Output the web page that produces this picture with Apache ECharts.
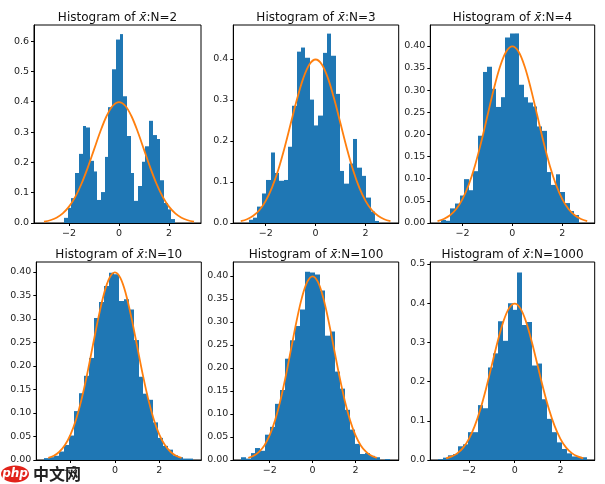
<!DOCTYPE html>
<html><head><meta charset="utf-8">
<style>html,body{margin:0;padding:0;background:#fff}#c{width:605px;height:484px}</style>
<script src="https://cdn.jsdelivr.net/npm/echarts@6/dist/echarts.min.js"></script>
</head><body><div id="c"></div>
<script>
const panelNames = ['2','3','4','10','100','1000'];
const heightsN2 = [.017,.05,.082,.165,.228,.32,.315,.205,.17,.076,.102,.218,.382,.507,.605,.623,.418,.287,.165,.073,.122,.202,.253,.337,.29,.277,.141,.066,.045,.013];
const heightsN3 = [.008,.013,.04,.072,.105,.172,.122,.103,.105,.186,.286,.418,.428,.403,.301,.238,.262,.415,.462,.408,.315,.127,.096,.145,.205,.135,.115,.062,.028,.005];
const heightsN4 = [.007,.005,.033,.044,.062,.099,.074,.117,.197,.341,.353,.303,.262,.284,.419,.428,.428,.312,.284,.272,.263,.218,.208,.115,.086,.11,.07,.045,.027,.018];
const heightsN10 = [.004,.006,.009,.018,.032,.052,.104,.142,.179,.217,.302,.336,.37,.398,.395,.338,.342,.32,.255,.177,.141,.128,.08,.047,.03,.022,.01,.006,.003,.003];
const heightsN100 = [.006,.003,.015,.026,.02,.055,.072,.122,.152,.22,.26,.291,.327,.409,.407,.403,.368,.27,.279,.192,.155,.109,.066,.035,.013,.015,.009,.006,0,.002];
const heightsN1000 = [.002,.006,.012,.015,.035,.04,.071,.071,.14,.132,.236,.272,.354,.304,.40,.383,.478,.344,.352,.241,.246,.155,.105,.071,.045,.028,.017,.009,.008,.007];
const binRanges = [[-2.2,2.24],[-2.68,2.55],[-2.85,2.66],[-3.2,3.53],[-3.36,3.6],[-3.36,3.17]];
const xLimits = [[-3.4,3.28],[-3.3,3.33],[-3.29,3.3],[-3.54,3.89],[-3.7,4.02],[-3.69,3.5]];
const yMax = [.653,.483,.447,.421,.43,.505];
const xTicks = [-2,0,2];
const yTicks = [
  [0,.1,.2,.3,.4,.5,.6],[0,.1,.2,.3,.4],[0,.05,.1,.15,.2,.25,.3,.35,.4],
  [0,.05,.1,.15,.2,.25,.3,.35,.4],[0,.05,.1,.15,.2,.25,.3,.35,.4],[0,.1,.2,.3,.4,.5]];
const yDigits = [1,1,2,2,2,1];
const curveX = [-3,-2.75,-2.5,-2.25,-2,-1.75,-1.5,-1.25,-1,-.75,-.5,-.25,0,.25,.5,.75,1,1.25,1.5,1.75,2,2.25,2.5,2.75,3];
const curveY = [.0044,.0091,.0175,.0317,.054,.0863,.1295,.1826,.242,.3011,.3521,.3867,.3989,.3867,.3521,.3011,.242,.1826,.1295,.0863,.054,.0317,.0175,.0091,.0044];
const allHeights = [heightsN2,heightsN3,heightsN4,heightsN10,heightsN100,heightsN1000];

const boxes = [[34,25,167,198],[233.3,25,165.4,198],[430.3,25,164.4,198],[36.3,262,165,198],[233.3,262,165.4,198],[430.3,262,164.4,198]];
const font = '"DejaVu Sans"';
const grid=[],xAxis=[],yAxis=[],series=[],title=[];
boxes.forEach((b,i)=>{
  grid.push({left:b[0],top:b[1],width:b[2],height:b[3],show:true,borderColor:'#000',borderWidth:1,backgroundColor:'transparent',containLabel:false});
  const axisLine={show:true,onZero:false,lineStyle:{color:'#000',width:1}};
  xAxis.push({type:'value',gridIndex:i,min:xLimits[i][0],max:xLimits[i][1],splitLine:{show:false},axisLine,
    axisTick:{show:true,length:3,lineStyle:{color:'#000',width:1},customValues:xTicks},
    axisLabel:{customValues:xTicks,margin:6,fontFamily:font,fontSize:9.5,color:'#222',formatter:v=>String(v).replace('-','\u2212')}});
  yAxis.push({type:'value',gridIndex:i,min:0,max:yMax[i],splitLine:{show:false},axisLine,
    axisTick:{show:true,length:3,lineStyle:{color:'#000',width:1},customValues:yTicks[i]},
    axisLabel:{customValues:yTicks[i],margin:5,fontFamily:font,fontSize:9.5,color:'#222',formatter:v=>(+v).toFixed(yDigits[i])}});
  const [lo,hi]=binRanges[i], w=(hi-lo)/allHeights[i].length;
  series.push({type:'custom',xAxisIndex:i,yAxisIndex:i,clip:true,z:2,
    data:allHeights[i].map((h,k)=>[lo+k*w,lo+(k+1)*w,h]),
    encode:{x:[0,1],y:2},
    renderItem:(p,api)=>{
      const a=api.coord([api.value(0),api.value(2)]), c=api.coord([api.value(1),0]);
      const x0=Math.round(a[0]), x1=Math.round(c[0]);
      return {type:'rect',shape:{x:x0,y:a[1],width:x1-x0,height:c[1]-a[1]},
        style:{fill:'#1f77b4'}};
    }});
  series.push({type:'line',xAxisIndex:i,yAxisIndex:i,z:3,smooth:0.35,showSymbol:false,symbol:'none',
    lineStyle:{color:'#ff7f0e',width:1.8},data:curveX.map((x,k)=>[x,curveY[k]])});
  title.push({text:'{a|Histogram of }{i|x\u0304}{a|:N='+panelNames[i]+'}',
    left:b[0]+b[2]/2-5,top:b[1]-18,textAlign:'center',
    textStyle:{fontWeight:'normal',rich:{a:{fontFamily:font,fontSize:12,fontWeight:'normal',color:'#111'},i:{fontFamily:font,fontStyle:'italic',fontWeight:'normal',fontSize:12,color:'#111'}}}});
});
const chart=echarts.init(document.getElementById('c'),null,{renderer:'canvas'});
chart.setOption({animation:false,backgroundColor:'#fff',title,grid,xAxis,yAxis,series,
  graphic:[
    {type:'ellipse',shape:{cx:15,cy:474,rx:14,ry:8.5},style:{fill:'#e2231a'},z:50},
    {type:'text',x:15,y:474,style:{text:'php',fill:'#fff',font:'italic bold 12px "DejaVu Sans"',align:'center',verticalAlign:'middle'},z:51},
    {type:'text',x:33,y:474,style:{text:'中文网',fill:'#222',font:'bold 16px "Noto Sans CJK SC"',verticalAlign:'middle'},z:51}
  ]});
</script></body></html>
